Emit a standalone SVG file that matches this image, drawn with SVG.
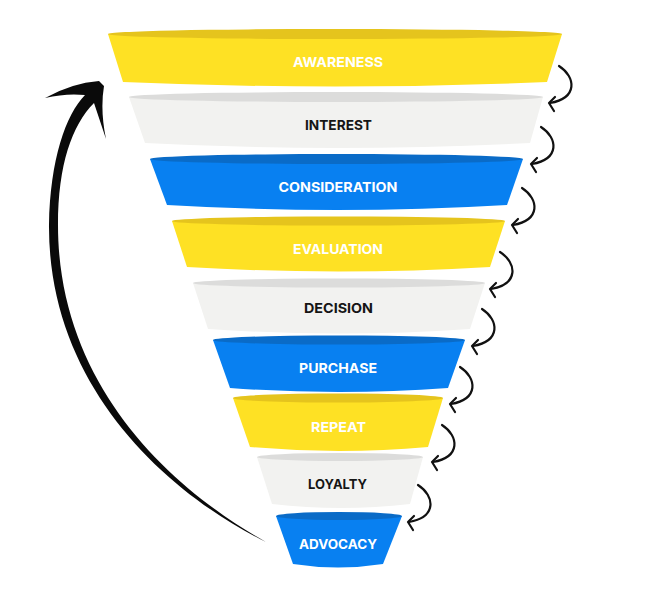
<svg xmlns="http://www.w3.org/2000/svg" xmlns:xlink="http://www.w3.org/1999/xlink" width="647" height="606" viewBox="0 0 647 606">
<style>
.yb{fill:#FEE124}.yt{fill:#E5C41D}
.gb{fill:#F2F2F0}.gt{fill:#DCDCDB}
.bb{fill:#0880F1}.bt{fill:#0A6BC7}
.lbl{font-family:Inter,"Open Sans","Liberation Sans",sans-serif;font-weight:700;font-size:13.5px;text-anchor:middle}
.w{fill:#FFFFFF}.k{fill:#151515}
.curl{fill:none;stroke:#111;stroke-width:2.2;stroke-linecap:round;stroke-linejoin:round}
</style>
<defs>
<g id="curlArrow" class="curl">
<path d="M0 0 C17 11 19 32 -9 37"/>
<path d="M-4 31 L-10 37 L-5 45"/>
</g>
</defs>
<rect width="647" height="606" fill="#FFFFFF"/>
<g id="awareness">
<path class="yb" d="M108 34 L123 82 Q335 91 547 82 L562 34 Z"/>
<ellipse class="yt" cx="335" cy="34" rx="227" ry="5"/>
<text class="lbl w" x="338" y="67" textLength="90" lengthAdjust="spacingAndGlyphs">AWARENESS</text>
</g>
<g id="interest">
<path class="gb" d="M129 97 L145 143 Q337 153 530 143 L543 97 Z"/>
<ellipse class="gt" cx="336" cy="97" rx="207" ry="5"/>
<text class="lbl k" x="338.5" y="130" textLength="67" lengthAdjust="spacingAndGlyphs">INTEREST</text>
</g>
<g id="consideration">
<path class="bb" d="M150 159 L167 205 Q337 215 507 205 L523 159 Z"/>
<ellipse class="bt" cx="336.5" cy="159" rx="186.5" ry="5"/>
<text class="lbl w" x="338" y="192" textLength="119" lengthAdjust="spacingAndGlyphs">CONSIDERATION</text>
</g>
<g id="evaluation">
<path class="yb" d="M172 221 L187 267 Q338 276 490 267 L505 221 Z"/>
<ellipse class="yt" cx="338.5" cy="221" rx="166.5" ry="4.5"/>
<text class="lbl w" x="338" y="254" textLength="90" lengthAdjust="spacingAndGlyphs">EVALUATION</text>
</g>
<g id="decision">
<path class="gb" d="M193 283 L208 329 Q339 338 470 329 L485 283 Z"/>
<ellipse class="gt" cx="339" cy="283" rx="146" ry="4.5"/>
<text class="lbl k" x="338.5" y="313" textLength="69" lengthAdjust="spacingAndGlyphs">DECISION</text>
</g>
<g id="purchase">
<path class="bb" d="M213 340 L230 388 Q339 396 448 388 L465 340 Z"/>
<ellipse class="bt" cx="339" cy="340" rx="126" ry="4.5"/>
<text class="lbl w" x="338" y="373" textLength="78" lengthAdjust="spacingAndGlyphs">PURCHASE</text>
</g>
<g id="repeat">
<path class="yb" d="M233 398 L250 447 Q339 455 428 447 L443 398 Z"/>
<ellipse class="yt" cx="338" cy="398" rx="105" ry="4.5"/>
<text class="lbl w" x="338.5" y="432" textLength="55" lengthAdjust="spacingAndGlyphs">REPEAT</text>
</g>
<g id="loyalty">
<path class="gb" d="M257 457 L272 504 Q341 512 410 504 L423 457 Z"/>
<ellipse class="gt" cx="340" cy="457" rx="83" ry="4"/>
<text class="lbl k" x="337.5" y="489" textLength="59" lengthAdjust="spacingAndGlyphs">LOYALTY</text>
</g>
<g id="advocacy">
<path class="bb" d="M276 516 L293 564 Q338 571 383 564 L402 516 Z"/>
<ellipse class="bt" cx="339" cy="516" rx="63" ry="4"/>
<text class="lbl w" x="338" y="549" textLength="78" lengthAdjust="spacingAndGlyphs">ADVOCACY</text>
</g>
<g id="connectors">
<path id="cycle-arrow" fill="#0A0A0A" d="M99 81 Q72 83 45 98 Q66 93 85 95 C66 114 50 160 49 225 C48 385 165 492 266 542 C170 488 58 385 58 225 C58 165 72 125 94 103 L106 139 Q100 110 104 86 Z"/>
<use xlink:href="#curlArrow" transform="translate(559 66)"/>
<use xlink:href="#curlArrow" transform="translate(541 127)"/>
<use xlink:href="#curlArrow" transform="translate(522 188)"/>
<use xlink:href="#curlArrow" transform="translate(500 252)"/>
<use xlink:href="#curlArrow" transform="translate(482 309)"/>
<use xlink:href="#curlArrow" transform="translate(460 367)"/>
<use xlink:href="#curlArrow" transform="translate(442 425)"/>
<use xlink:href="#curlArrow" transform="translate(418 485)"/>
</g>
</svg>
